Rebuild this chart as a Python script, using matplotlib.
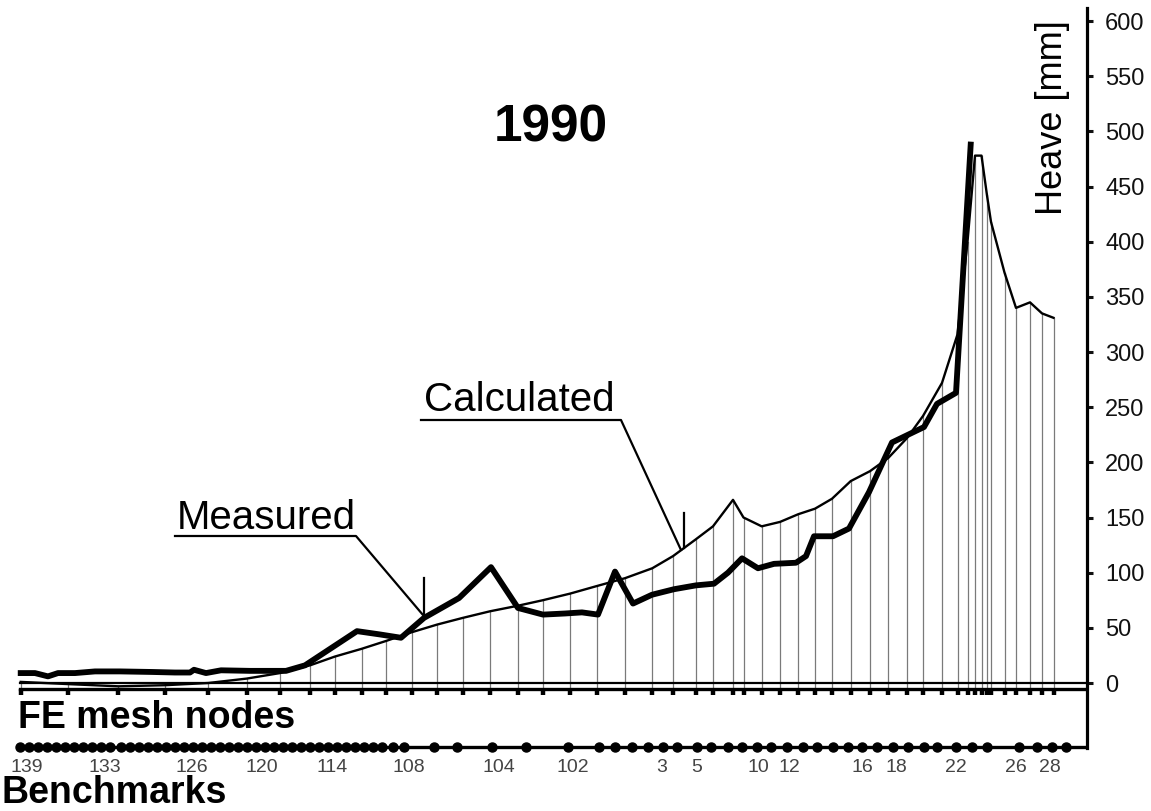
import numpy as np
import matplotlib
matplotlib.use("Agg")
import matplotlib.pyplot as plt

plt.rcParams['font.family'] = ['Liberation Sans', 'DejaVu Sans']

# distance along the profile (px-like units) of FE mesh nodes
node_x = [20.7, 68.3, 118.3, 165, 208.3, 246.7, 280, 310, 335, 361.7, 385.7, 411.7,
          437.3, 462.7, 490, 517.7, 542.7, 570, 597.3, 625, 652.3, 673, 695.5, 713,
          733, 743.5, 761.7, 780, 798.3, 815, 832, 850.7, 870, 888.3, 907, 923, 942,
          957.5, 967.5, 975, 981.5, 987, 991, 1004.5, 1016, 1030, 1042, 1053.5]
# calculated heave at nodes [mm]
calc_mm = [1, -1, -3, -2, 0, 4, 9, 16, 24, 31, 38, 46,
           53, 59, 65, 70, 75, 81, 88, 95, 104, 115, 130, 142,
           166, 150, 142, 146, 153, 158, 167, 183, 192, 204, 222, 242, 272,
           316, 400, 478, 478, 442, 418, 372, 340, 345, 335, 331]

# measured heave [mm]
meas_x = [20.7, 35, 48, 58, 75, 95, 120, 152, 175, 190, 194, 206, 221, 250, 286,
          305, 357, 380, 401, 424, 459, 491, 518, 543, 565, 582, 598, 615, 633,
          652, 674, 696, 714, 728, 742, 758, 774, 796, 806, 814, 833, 849, 869,
          892, 924, 937, 956, 970.7]
meas_mm = [9, 9, 6, 9, 9, 10.5, 10.5, 10, 9.5, 9.5, 12, 9, 11.5, 11, 11,
           16, 47, 44, 41, 59, 77, 105, 68, 62, 63, 64, 62, 101, 72,
           80, 85, 88.5, 90, 100, 113, 104, 108, 109, 115, 133, 133, 140, 173,
           218, 232, 253, 263, 488]

# benchmarks
bm_x = [20, 29, 38, 47, 56, 65, 74, 83, 92, 101, 110, 121, 130, 139, 148, 157, 166,
        175, 184, 193, 202, 211, 220, 229, 238, 247, 256, 265, 274, 283, 292, 301,
        310, 319, 328, 337, 346, 355, 364, 373, 382, 393, 404, 434, 457, 492, 526,
        568, 599, 615, 632, 648, 663, 677, 697, 711, 728, 742, 757, 771, 787, 803,
        817, 833, 848, 862, 877, 893, 908, 924, 937, 956, 972, 987, 1019, 1037,
        1052, 1066]
bm_label_x = [27, 105, 192, 262, 332, 409, 499, 573, 662, 697, 758, 789, 862, 896,
              956, 1016, 1050]
bm_labels = ['139', '133', '126', '120', '114', '108', '104', '102', '3', '5',
             '10', '12', '16', '18', '22', '26', '28']

y_ticks = list(range(0, 601, 50))

W, H = 1151, 811
fig = plt.figure(figsize=(W / 100, H / 100), dpi=100)
x_right = 1087
ax = fig.add_axes([0, 0, x_right / W, 1])
ax.set_xlim(0, x_right)
px_per_mm = 1.1033
y0 = 683
ax.set_ylim((y0 - H) / px_per_mm, y0 / px_per_mm)

def mm(ypx):
    return (y0 - ypx) / px_per_mm

# axes styling: only the right spine is kept as the heave axis
for s in ['left', 'top', 'bottom']:
    ax.spines[s].set_visible(False)
ax.spines['right'].set_linewidth(2.3)
ax.spines['right'].set_bounds(mm(748), mm(8))
ax.yaxis.tick_right()
ax.set_yticks(y_ticks)
ax.tick_params(axis='y', direction='out', length=4, width=2.2, labelsize=17,
               pad=9, colors='#111')
ax.tick_params(axis='x', bottom=False, labelbottom=False)

# hatch lines from baseline to calculated curve
for xn, c in zip(node_x, calc_mm):
    if c > -4.5:
        ax.plot([xn, xn], [-4.5, c], color='#7a7a7a', lw=0.9, zorder=1)

# baselines and node ticks
ax.plot([20, x_right], [0, 0], color='black', lw=1.6, zorder=2)
ax.plot([20, x_right], [-5, -5], color='black', lw=2.4, zorder=2)
ax.vlines(node_x, -5, -11, color='black', lw=3.2, zorder=2)

# curves
ax.plot(node_x, calc_mm, color='black', lw=1.7, zorder=3)
ax.plot(meas_x, meas_mm, color='black', lw=4.2, zorder=4)

# benchmarks row
ax.plot([20, x_right], [mm(747), mm(747)], color='black', lw=2.4, zorder=2)
ax.plot(bm_x, [mm(747)] * len(bm_x), 'o', color='black', ms=6.5, zorder=3)
for xl, lab in zip(bm_label_x, bm_labels):
    ax.text(xl, mm(767), lab, ha='center', va='center', fontsize=14, color='#444')

# annotations
ax.text(177, mm(529), 'Measured', fontsize=29, ha='left', va='baseline')
ax.plot([175, 356, 423], [mm(536), mm(536), mm(615)], color='black', lw=1.6)
ax.plot([423.5, 423.5], [mm(578), mm(614)], color='black', lw=1.6)

ax.text(424, mm(411), 'Calculated', fontsize=29, ha='left', va='baseline')
ax.plot([421, 621, 681], [mm(420), mm(420), mm(550)], color='black', lw=1.6)
ax.plot([684, 684], [mm(513), mm(548)], color='black', lw=1.6)

ax.text(551, mm(128), '1990', fontsize=37, fontweight='bold', ha='center', va='center')
ax.text(1053, mm(118), 'Heave [mm]', fontsize=26, rotation=90, ha='center', va='center')
ax.text(18, mm(718), 'FE mesh nodes', fontsize=27, fontweight='bold', ha='left', va='center')
ax.text(2, mm(793), 'Benchmarks', fontsize=27, fontweight='bold', ha='left', va='center')

fig.savefig('out.png', dpi=100)
